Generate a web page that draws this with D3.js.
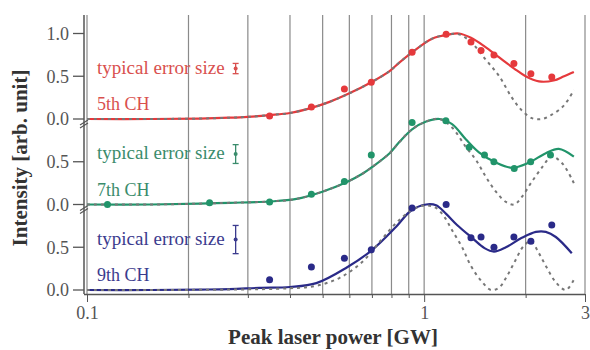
<!DOCTYPE html>
<html>
<head>
<meta charset="utf-8">
<script src="https://cdn.jsdelivr.net/npm/d3@7"></script>
<style>
  body { margin: 0; background: #fff; }
  text { font-family: "Liberation Serif", "DejaVu Serif", serif; }
</style>
</head>
<body>
<div id="chart"></div>
<script>
// Grid lines and ticks on the log power axis
var gridPowers = [0.1, 0.2, 0.3, 0.4, 0.5, 0.6, 0.7, 0.8, 0.9, 1, 2, 3];
var xTickValues = [0.1, 1, 3];
var xTickLabels = ["0.1", "1", "3"];
var yTickValuesTop = [0, 0.5, 1.0];
var yTickValues = [0, 0.5];
var yTickLabels = ["0.0", "0.5", "1.0"];

// 5th CH (red)
var h5Power = [0.348, 0.463, 0.58, 0.697, 0.921, 1.162, 1.377, 1.475, 1.611, 1.846, 2.073, 2.391];
var h5Meas = [0.035, 0.14, 0.35, 0.43, 0.78, 0.99, 0.90, 0.80, 0.75, 0.65, 0.53, 0.49];
var h5FitPower = [0.1, 0.154, 0.216, 0.265, 0.30, 0.348, 0.40, 0.463, 0.524, 0.60, 0.697, 0.79, 0.844, 0.921, 1.056, 1.186, 1.269, 1.377, 1.51, 1.67, 1.85, 2.0, 2.19, 2.42, 2.6, 2.78];
var h5Fit = [0, 0, 0.005, 0.015, 0.025, 0.045, 0.07, 0.13, 0.2, 0.3, 0.43, 0.56, 0.66, 0.78, 0.94, 0.99, 1.0, 0.95, 0.85, 0.72, 0.59, 0.5, 0.44, 0.45, 0.5, 0.55];
var h5SimPower = [0.1, 0.154, 0.216, 0.265, 0.30, 0.348, 0.40, 0.463, 0.524, 0.60, 0.697, 0.79, 0.844, 0.921, 1.056, 1.186, 1.269, 1.377, 1.526, 1.67, 1.821, 1.949, 2.087, 2.234, 2.391, 2.6, 2.78];
var h5Sim = [0, 0, 0.005, 0.015, 0.025, 0.045, 0.07, 0.13, 0.2, 0.3, 0.43, 0.56, 0.66, 0.78, 0.94, 0.99, 0.99, 0.9, 0.69, 0.5, 0.25, 0.1, 0.01, 0.0, 0.05, 0.16, 0.34];

// 7th CH (green)
var h7Power = [0.115, 0.231, 0.348, 0.463, 0.58, 0.697, 0.921, 1.16, 1.36, 1.51, 1.61, 1.85, 2.07, 2.37];
var h7Meas = [0.0, 0.02, 0.03, 0.12, 0.27, 0.58, 0.96, 0.98, 0.67, 0.58, 0.5, 0.42, 0.5, 0.58];
var h7FitPower = [0.1, 0.154, 0.216, 0.265, 0.348, 0.418, 0.499, 0.588, 0.656, 0.702, 0.79, 0.844, 0.921, 1.014, 1.11, 1.21, 1.331, 1.454, 1.633, 1.821, 2.045, 2.296, 2.508, 2.78];
var h7Fit = [0, 0, 0.01, 0.02, 0.035, 0.065, 0.15, 0.26, 0.36, 0.44, 0.6, 0.73, 0.88, 0.97, 1.0, 0.94, 0.76, 0.61, 0.49, 0.43, 0.49, 0.6, 0.65, 0.56];
var h7SimPower = [0.1, 0.154, 0.216, 0.265, 0.348, 0.418, 0.499, 0.588, 0.656, 0.702, 0.79, 0.844, 0.921, 1.014, 1.11, 1.21, 1.331, 1.425, 1.526, 1.633, 1.748, 1.85, 1.949, 2.073, 2.234, 2.391, 2.57, 2.78];
var h7Sim = [0, 0, 0.01, 0.02, 0.035, 0.065, 0.15, 0.26, 0.36, 0.44, 0.6, 0.73, 0.88, 0.97, 1.0, 0.9, 0.67, 0.52, 0.32, 0.15, 0.03, 0.0, 0.09, 0.25, 0.43, 0.56, 0.48, 0.25];

// 9th CH (blue)
var h9Power = [0.348, 0.463, 0.58, 0.697, 0.921, 1.162, 1.377, 1.475, 1.611, 1.846, 2.073, 2.391];
var h9Meas = [0.12, 0.27, 0.37, 0.47, 0.96, 1.0, 0.61, 0.62, 0.5, 0.62, 0.57, 0.76];
var h9FitPower = [0.1, 0.154, 0.216, 0.265, 0.325, 0.40, 0.479, 0.588, 0.702, 0.826, 0.915, 1.014, 1.085, 1.162, 1.252, 1.387, 1.51, 1.611, 1.748, 1.949, 2.145, 2.296, 2.458, 2.741];
var h9Fit = [0, 0, 0.005, 0.01, 0.025, 0.035, 0.08, 0.26, 0.47, 0.74, 0.93, 1.0, 0.99, 0.89, 0.76, 0.61, 0.49, 0.45, 0.5, 0.61, 0.68, 0.68, 0.62, 0.43];
var h9SimPower = [0.1, 0.154, 0.265, 0.40, 0.479, 0.56, 0.656, 0.751, 0.844, 0.934, 1.014, 1.085, 1.146, 1.21, 1.296, 1.377, 1.475, 1.579, 1.67, 1.748, 1.85, 1.977, 2.073, 2.19, 2.312, 2.458, 2.631, 2.78];
var h9Sim = [0, 0, 0.005, 0.02, 0.05, 0.14, 0.33, 0.6, 0.82, 0.95, 0.99, 0.96, 0.86, 0.7, 0.5, 0.28, 0.11, 0.0, 0.03, 0.14, 0.32, 0.52, 0.57, 0.43, 0.26, 0.09, 0.0, 0.12];

// Panel labels and typical error (half height, arb. unit)
var panelNames = ["5th CH", "7th CH", "9th CH"];
var panelOffsets = [2, 1, 0];
var typicalErrors = [0.06, 0.11, 0.165];

var svgWidth = 590;
var svgHeight = 350;

var svg = d3.select("#chart").append("svg")
    .attr("width", svgWidth)
    .attr("height", svgHeight);

// Scales: log power, stacked intensity panels (offset 1.0 each)
var xScale = d3.scaleLog().domain([0.1, 3]).range([87, 585]);
var yScale = d3.scaleLinear().domain([0, 3]).range([290, 33.5]);

var plotTop = 15;
var axisY = 294;
var axisX = 84;

// vertical grid
svg.append("g").selectAll("line")
    .data(gridPowers)
    .enter()
    .append("line")
    .attr("x1", d => xScale(d))
    .attr("x2", d => xScale(d))
    .attr("y1", plotTop)
    .attr("y2", axisY)
    .attr("stroke", "#8a8a8a")
    .attr("stroke-width", 1.2);

// x axis
var bottomAxis = d3.axisBottom(xScale)
    .tickValues(gridPowers)
    .tickSize(4)
    .tickFormat(d => {
        var i = xTickValues.indexOf(d);
        return i >= 0 ? xTickLabels[i] : "";
    });

var xAxisG = svg.append("g")
    .attr("transform", `translate(0, ${axisY})`)
    .call(bottomAxis);

xAxisG.select(".domain")
    .attr("d", `M${axisX},0.5H585`)
    .attr("stroke", "#555")
    .attr("stroke-width", 1.5);
xAxisG.selectAll(".tick line")
    .attr("stroke", "#555")
    .attr("y2", d => xTickValues.indexOf(d) >= 0 ? 8 : 4);
xAxisG.selectAll(".tick text")
    .attr("y", 12)
    .attr("fill", "#555")
    .style("font-size", "18px");

// y axis line
svg.append("line")
    .attr("x1", axisX).attr("x2", axisX)
    .attr("y1", plotTop).attr("y2", axisY)
    .attr("stroke", "#555")
    .attr("stroke-width", 1.5);

// y ticks for each panel
panelOffsets.forEach((off, i) => {
    var vals = i === 0 ? yTickValuesTop : yTickValues;
    var g = svg.append("g");
    vals.forEach((v, j) => {
        var yy = yScale(off + v);
        g.append("line")
            .attr("x1", axisX - 11).attr("x2", axisX)
            .attr("y1", yy).attr("y2", yy)
            .attr("stroke", "#555")
            .attr("stroke-width", 1.3);
        g.append("text")
            .attr("x", axisX - 15)
            .attr("y", yy)
            .attr("dy", "0.35em")
            .attr("text-anchor", "end")
            .attr("fill", "#555")
            .style("font-size", "18px")
            .text(yTickLabels[j]);
    });
    // axis break marks
    if (off > 0) {
        var yb = yScale(off);
        g.append("path")
            .attr("d", `M${axisX - 4},${yb + 6}l8,-5M${axisX - 4},${yb + 9}l8,-5`)
            .attr("stroke", "#555")
            .attr("stroke-width", 1.2)
            .attr("fill", "none");
    }
});

// series definitions
var series = [
    { color: "#e5393c", text: "#d9504e", meas: [h5Power, h5Meas], fit: [h5FitPower, h5Fit], sim: [h5SimPower, h5Sim] },
    { color: "#21946a", text: "#3a8c6c", meas: [h7Power, h7Meas], fit: [h7FitPower, h7Fit], sim: [h7SimPower, h7Sim] },
    { color: "#2a2a88", text: "#3b3b8e", meas: [h9Power, h9Meas], fit: [h9FitPower, h9Fit], sim: [h9SimPower, h9Sim] }
];

function toPairs(arr) {
    return arr[0].map((p, k) => [p, arr[1][k]]);
}

series.forEach((s, i) => {
    var off = panelOffsets[i];
    var line = d3.line()
        .x(d => xScale(d[0]))
        .y(d => yScale(off + d[1]))
        .curve(d3.curveCatmullRom.alpha(0.5));

    // solid fit
    svg.append("path")
        .datum(toPairs(s.fit))
        .attr("d", line)
        .attr("fill", "none")
        .attr("stroke", s.color)
        .attr("stroke-width", 2.2);

    // dashed simulation
    svg.append("path")
        .datum(toPairs(s.sim))
        .attr("d", line)
        .attr("fill", "none")
        .attr("stroke", "#777")
        .attr("stroke-width", 2)
        .attr("stroke-dasharray", "3,4");

    // measured points
    svg.append("g").selectAll("circle")
        .data(toPairs(s.meas))
        .enter()
        .append("circle")
        .attr("cx", d => xScale(d[0]))
        .attr("cy", d => yScale(off + d[1]))
        .attr("r", 3.5)
        .attr("fill", s.color);

    // labels
    svg.append("text")
        .attr("x", 97)
        .attr("y", yScale(off + 0.59) + 5)
        .attr("fill", s.text)
        .style("font-size", "19px")
        .text("typical error size");

    svg.append("text")
        .attr("x", 97)
        .attr("y", yScale(off + 0.1))
        .attr("fill", s.text)
        .style("font-size", "18px")
        .text(panelNames[i]);

    // typical error bar
    var ex = xScale(0.276);
    var eg = svg.append("g").attr("stroke", s.text).attr("stroke-width", 1.3);
    eg.append("line")
        .attr("x1", ex).attr("x2", ex)
        .attr("y1", yScale(off + 0.59 - typicalErrors[i]))
        .attr("y2", yScale(off + 0.59 + typicalErrors[i]));
    [-1, 1].forEach(sg => {
        eg.append("line")
            .attr("x1", ex - 3).attr("x2", ex + 3)
            .attr("y1", yScale(off + 0.59 + sg * typicalErrors[i]))
            .attr("y2", yScale(off + 0.59 + sg * typicalErrors[i]));
    });
    svg.append("circle")
        .attr("cx", ex)
        .attr("cy", yScale(off + 0.59))
        .attr("r", 2)
        .attr("fill", s.text);
});

// axis titles
svg.append("text")
    .attr("x", 333)
    .attr("y", 344)
    .attr("text-anchor", "middle")
    .attr("fill", "#333")
    .style("font-size", "21px")
    .style("font-weight", "bold")
    .text("Peak laser power [GW]");

svg.append("text")
    .attr("transform", "rotate(-90)")
    .attr("x", -158)
    .attr("y", 27)
    .attr("text-anchor", "middle")
    .attr("fill", "#333")
    .style("font-size", "21px")
    .style("font-weight", "bold")
    .text("Intensity [arb. unit]");
</script>
</body>
</html>
